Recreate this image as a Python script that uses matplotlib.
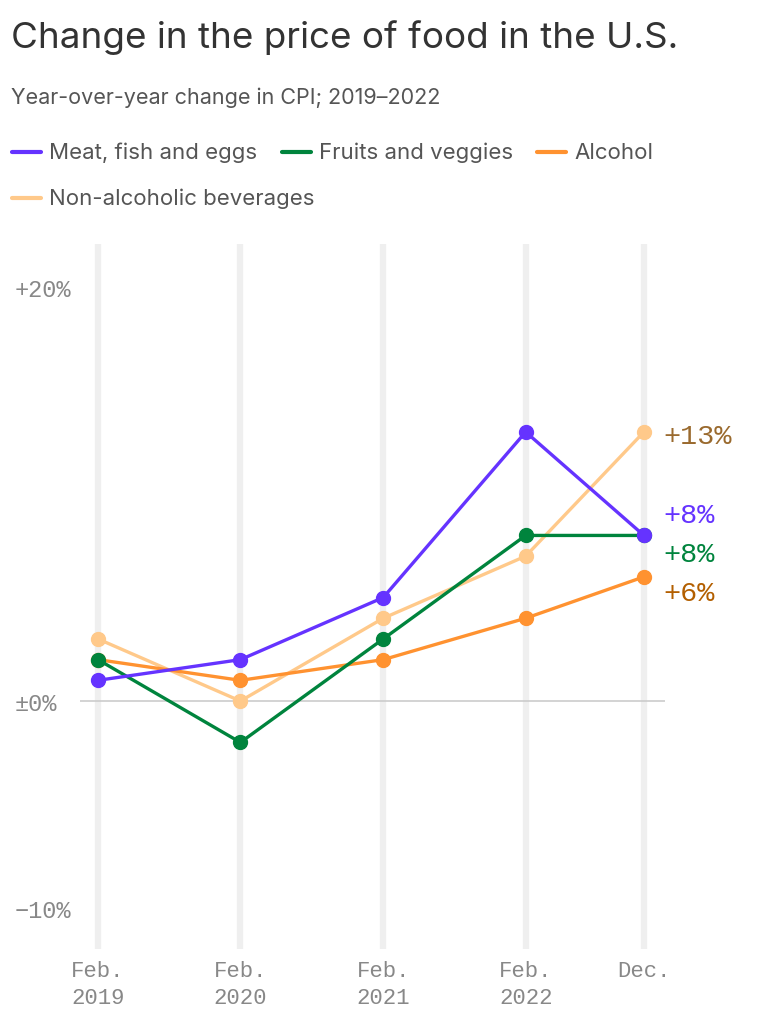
import matplotlib
matplotlib.use("Agg")
import matplotlib.pyplot as plt
import matplotlib.dates as mdates
from matplotlib.lines import Line2D
import datetime as dt

dates = [dt.date(2019, 2, 1), dt.date(2020, 2, 1), dt.date(2021, 2, 1),
         dt.date(2022, 2, 1), dt.date(2022, 12, 1)]
tick_labels = ["Feb.\n2019", "Feb.\n2020", "Feb.\n2021", "Feb.\n2022", "Dec.\n"]
series_names = ["Meat, fish and eggs", "Fruits and veggies", "Alcohol", "Non-alcoholic beverages"]
meat = [1, 2, 5, 13, 8]
fruits = [2, -2, 3, 8, 8]
alcohol = [2, 1, 2, 4, 6]
nonalc = [3, 0, 4, 7, 13]
end_labels = ["+8%", "+8%", "+6%", "+13%"]
yticks = [-10, 0, 20]
ytick_labels = ["\u221210%", "\u00b10%", "+20%"]

colors = ["#6533ff", "#00843d", "#ff9230", "#ffc98a"]
label_colors = ["#6533ff", "#00843d", "#b35f00", "#9a6a2e"]

sans = ["Inter", "DejaVu Sans"]
mono = ["Liberation Mono", "DejaVu Sans Mono"]

fig = plt.figure(figsize=(7.7, 10.2), dpi=100)
W, H = 770, 1020
ax = fig.add_axes([80 / W, 1 - 950 / H, 585 / W, (950 - 245) / H])

xnum = mdates.date2num(dates)
ax.set_xlim(xnum[0] - 46, xnum[-1] + 54)
ax.set_ylim(-11.98, 22.08)

for x in xnum:
    ax.axvline(x, color="#efefef", lw=4.5, zorder=0)
ax.axhline(0, color="#cccccc", lw=1.2, zorder=1)

all_series = [meat, fruits, alcohol, nonalc]
zorders = [6, 5, 4, 3]
for i in range(4):
    ax.plot(xnum, all_series[i], color=colors[i], lw=2.4, marker="o",
            markersize=10, zorder=zorders[i])

# end labels
label_offsets = [1.0, -0.9, -0.8, -0.2]
for i in range(4):
    y = all_series[i][-1] + label_offsets[i]
    ax.text(xnum[-1] + 50, y, end_labels[i], color=label_colors[i], fontsize=20.5,
            family=mono, va="center", ha="left", clip_on=False)

ax.set_xticks(xnum)
ax.set_xticklabels(tick_labels, family=mono, fontsize=16, color="#888888", linespacing=1.35)
ax.set_yticks(yticks)
ax.set_yticklabels(ytick_labels, family=mono, fontsize=17, color="#888888")
ax.tick_params(axis="both", length=0)
ax.tick_params(axis="x", pad=8)
ax.tick_params(axis="y", pad=0)
for s in ax.spines.values():
    s.set_visible(False)
for lab in ax.get_yticklabels():
    lab.set_horizontalalignment("left")
    lab.set_x(-65 / 585)

fig.text(11 / W, 1 - 48 / H, "Change in the price of food in the U.S.", fontsize=26.5,
         family=sans, color="#333333", va="baseline", ha="left")
fig.text(11 / W, 1 - 104 / H, "Year-over-year change in CPI; 2019\u20132022", fontsize=15.5,
         family=sans, color="#555555", va="baseline", ha="left")

legend_pos = [(12, 153), (282, 153), (537, 153), (12, 199)]
for i, (lx, ly) in enumerate(legend_pos):
    fig.add_artist(Line2D([lx / W, (lx + 29) / W], [1 - ly / H, 1 - ly / H],
                          color=colors[i], lw=3, solid_capstyle="round",
                          transform=fig.transFigure))
    fig.text((lx + 37) / W, 1 - (ly + 6) / H, series_names[i], fontsize=16, family=sans,
             color="#555555", va="baseline", ha="left")

fig.savefig("out.png", dpi=100, facecolor="white")
